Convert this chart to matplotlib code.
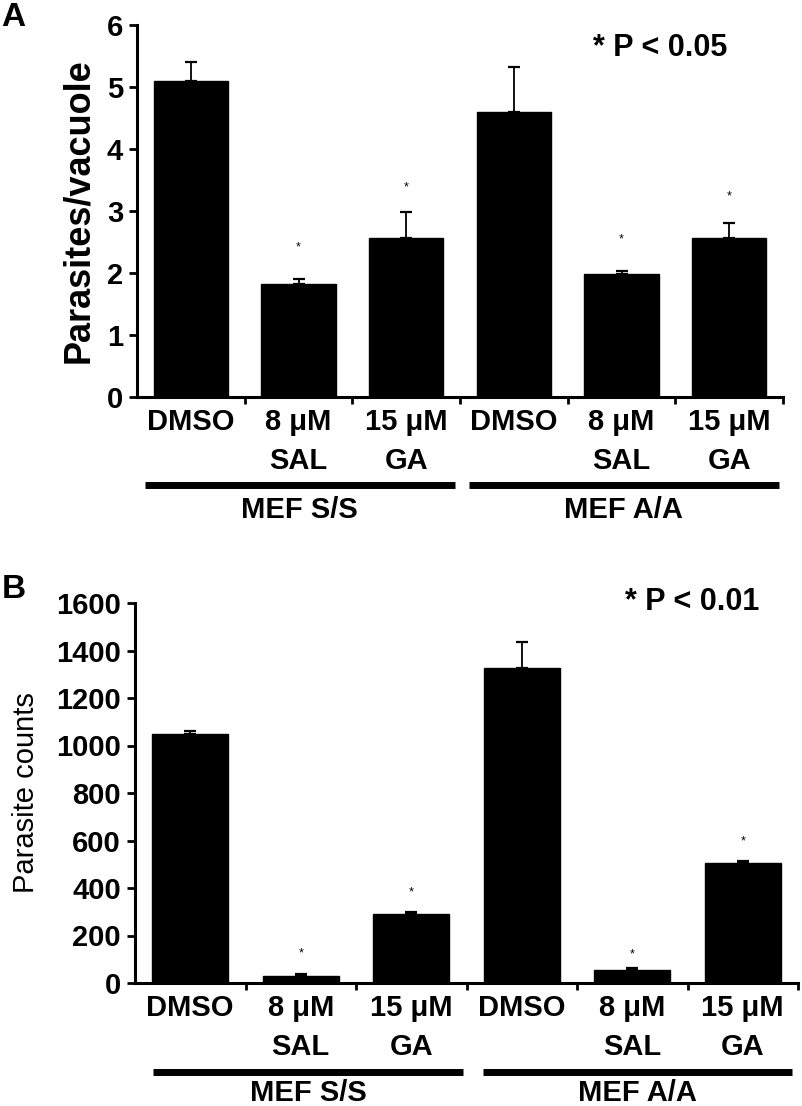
import numpy as np
import matplotlib
matplotlib.use("Agg")
import matplotlib.pyplot as plt
from matplotlib.transforms import blended_transform_factory

plt.rcParams['font.family'] = ['Liberation Sans', 'DejaVu Sans']

# data
tick_labels = ["DMSO", "8 \u03bcM\nSAL", "15 \u03bcM\nGA", "DMSO", "8 \u03bcM\nSAL", "15 \u03bcM\nGA"]
groups = ["MEF S/S", "MEF A/A"]

vac_mean = [5.10, 1.83, 2.56, 4.60, 1.99, 2.56]
vac_err = [0.30, 0.07, 0.42, 0.72, 0.04, 0.24]
vac_star = [None, 2.41, 3.38, None, 2.54, 3.24]

cnt_mean = [1047, 30, 290, 1325, 55, 504]
cnt_err = [14, 10, 10, 112, 7, 10]
cnt_star = [None, 125, 382, None, 122, 595]

W, H = 802, 1106
fig = plt.figure(figsize=(W / 100, H / 100), dpi=100)


def px_axes(l, r, top, bot):
    return fig.add_axes([l / W, 1 - bot / H, (r - l) / W, (bot - top) / H])


def draw_panel(ax, means, errs, stars, ymax, yticks, ylabel, ylab_kw, ptext, ptxt_xy,
               line_spans, line_y, grp_y):
    x = np.arange(len(means)) + 0.5
    ax.bar(x, means, width=0.69, color='black', edgecolor='black', zorder=2)
    ax.errorbar(x, means, yerr=[np.zeros(len(errs)), errs], fmt='none', ecolor='black',
                elinewidth=1.3, capsize=4, capthick=1.6, zorder=1)
    for xi, s in zip(x, stars):
        if s is not None:
            ax.text(xi, s, "*", ha='center', va='center', fontsize=9)
    ax.set_xlim(0, len(means))
    ax.set_ylim(0, ymax)
    ax.set_yticks(yticks)
    ax.set_yticklabels([str(t) for t in yticks], fontsize=21, fontweight='bold')
    ax.set_xticks(x)
    ax.set_xticklabels(tick_labels, fontsize=21, fontweight='bold', linespacing=1.5)
    ax.set_xticks(np.arange(1, len(means) + 1), minor=True)
    ax.tick_params(axis='x', which='major', length=0, pad=8)
    ax.tick_params(axis='x', which='minor', length=5, width=2, direction='out')
    ax.tick_params(axis='y', length=6, width=2, direction='out', pad=4)
    for sp in ['top', 'right']:
        ax.spines[sp].set_visible(False)
    for sp in ['left', 'bottom']:
        ax.spines[sp].set_linewidth(2.2)
    ax.set_ylabel(ylabel, **ylab_kw)
    ax.text(ptxt_xy[0], ptxt_xy[1], ptext, transform=ax.transAxes, ha='center', va='center',
            fontsize=22, fontweight='bold')
    tr = blended_transform_factory(ax.transData, ax.transAxes)
    for (a, b), g in zip(line_spans, groups):
        ax.plot([a, b], [line_y, line_y], color='black', lw=5, transform=tr, clip_on=False,
                solid_capstyle='butt')
        ax.text((a + b) / 2, grp_y, g, transform=tr, ha='center', va='center',
                fontsize=21, fontweight='bold')


axA = px_axes(137, 783, 25, 397)
draw_panel(axA, vac_mean, vac_err, vac_star, 6, [0, 1, 2, 3, 4, 5, 6],
           "Parasites/vacuole", dict(fontsize=26, fontweight='bold', labelpad=8),
           "* P < 0.05", (0.81, 0.938),
           [(0.07, 2.95), (3.08, 5.96)], -0.237, -0.304)

axB = px_axes(135, 798, 603, 983)
draw_panel(axB, cnt_mean, cnt_err, cnt_star, 1600, list(range(0, 1601, 200)),
           "Parasite counts", dict(fontsize=21, labelpad=12),
           "* P < 0.01", (0.84, 1.003),
           [(0.16, 2.97), (3.15, 5.95)], -0.234, -0.29)

fig.text(13 / W, 1 - 18 / H, "A", fontsize=24, fontweight='bold', ha='center', va='center')
fig.text(14 / W, 1 - 590 / H, "B", fontsize=24, fontweight='bold', ha='center', va='center')

fig.savefig("out.png", dpi=100)
